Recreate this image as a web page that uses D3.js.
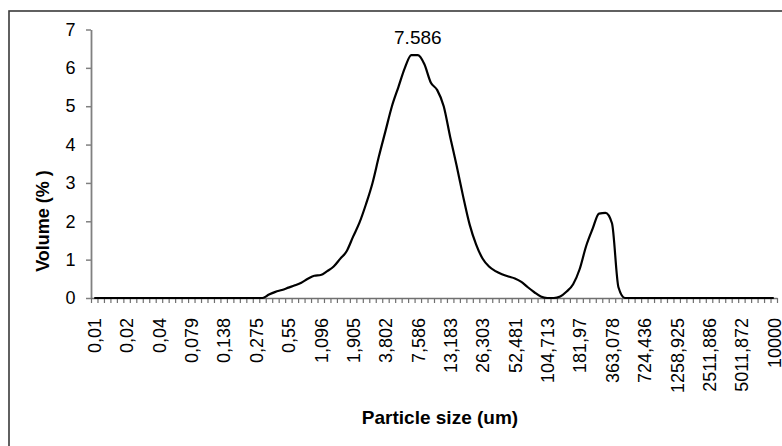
<!DOCTYPE html>
<html>
<head>
<meta charset="utf-8">
<script src="https://cdn.jsdelivr.net/npm/d3@7"></script>
<style>
  body { margin: 0; background: #fff; }
  text { font-family: Arial, "Liberation Sans", sans-serif; fill: #000; }
</style>
</head>
<body>
<svg width="782" height="446"></svg>
<script>
// tick labels, one every 5th size class
var tickLabels = ["0,01", "0,02", "0,04", "0,079", "0,138", "0,275", "0,55", "1,096", "1,905", "3,802",
  "7,586", "13,183", "26,303", "52,481", "104,713", "181,97", "363,078", "724,436", "1258,925",
  "2511,886", "5011,872", "10000"];
var labelEvery = 5;

// volume (%) per size class
var volume = [
  0, 0, 0, 0, 0, 0, 0, 0, 0, 0,
  0, 0, 0, 0, 0, 0, 0, 0, 0, 0,
  0, 0, 0, 0, 0, 0, 0, 0.09, 0.16, 0.21,
  0.27, 0.33, 0.40, 0.50, 0.58, 0.60, 0.70, 0.82, 1.02, 1.22,
  1.60, 1.97, 2.45, 3.00, 3.70, 4.35, 5.00, 5.50, 6.00, 6.33,
  6.33, 6.10, 5.62, 5.42, 5.00, 4.20, 3.45, 2.65, 1.92, 1.40,
  1.03, 0.82, 0.70, 0.62, 0.56, 0.51, 0.42, 0.28, 0.15, 0.04,
  0, 0, 0.04, 0.17, 0.36, 0.75, 1.35, 1.80, 2.20, 2.22,
  1.95, 0.28, 0, 0, 0, 0, 0, 0, 0, 0,
  0, 0, 0, 0, 0, 0, 0, 0, 0, 0,
  0, 0, 0, 0, 0, 0
];
var peakLabel = "7.586";
var yTicks = [0, 1, 2, 3, 4, 5, 6, 7];

var svg = d3.select("svg");
var plotLeft = 91, plotRight = 777, plotTop = 29.5, plotBottom = 298;

// outer frame (runs past the picture on right and bottom)
svg.append("rect")
  .attr("x", 9).attr("y", 11)
  .attr("width", 820).attr("height", 480)
  .attr("fill", "none")
  .attr("stroke", "#3a3a3a")
  .attr("stroke-width", 1.6);

// category positions: edges at integers, centers at i + 0.5
var x = d3.scaleLinear().domain([0, volume.length]).range([plotLeft, plotRight]);
var y = d3.scaleLinear().domain([0, 7]).range([plotBottom, plotTop]);

// y axis
var yAxis = svg.append("g")
  .attr("transform", "translate(" + plotLeft + ",0)")
  .call(d3.axisLeft(y).tickValues(yTicks).tickFormat(d3.format("d"))
    .tickSize(5).tickPadding(10.5).tickSizeOuter(0));
yAxis.select(".domain").attr("stroke", "#808080").attr("stroke-width", 1.8);
yAxis.selectAll(".tick line").attr("stroke", "#808080").attr("stroke-width", 1.5);
yAxis.selectAll("text").style("font-size", "18px").attr("fill", "#000");

// x axis tick marks between categories
var xAxis = svg.append("g")
  .attr("transform", "translate(0," + plotBottom + ")")
  .call(d3.axisBottom(x).tickValues(d3.range(volume.length + 1)).tickSize(5).tickFormat("").tickSizeOuter(0));
xAxis.select(".domain").attr("stroke", "#707070").attr("stroke-width", 1.6);
xAxis.selectAll(".tick line").attr("stroke", "#707070").attr("stroke-width", 1.2);

// x tick labels, rotated
var labelPos = tickLabels.map(function(d, i) { return i * labelEvery + 0.5; });
var xLabels = svg.append("g")
  .attr("transform", "translate(0," + plotBottom + ")")
  .call(d3.axisBottom(x).tickValues(labelPos).tickSize(0)
    .tickFormat(function(d, i) { return tickLabels[i]; }));
xLabels.select(".domain").remove();
xLabels.selectAll("text")
  .style("font-size", "18px")
  .attr("fill", "#000")
  .attr("text-anchor", "end")
  .attr("y", 0)
  .attr("dy", "0.35em")
  .attr("transform", "translate(0,20) rotate(-90)");

// the data line
var line = d3.line()
  .x(function(d, i) { return x(i + 0.5); })
  .y(function(d) { return y(d); })
  .curve(d3.curveMonotoneX);

svg.append("path")
  .datum(volume)
  .attr("d", line)
  .attr("fill", "none")
  .attr("stroke", "#000")
  .attr("stroke-width", 2.2)
  .attr("stroke-linejoin", "round");

// peak annotation, centred over the flat top
var peakIndex = volume.indexOf(d3.max(volume));
svg.append("text")
  .attr("x", x(peakIndex + 1.5))
  .attr("y", y(volume[peakIndex]) - 11)
  .attr("text-anchor", "middle")
  .style("font-size", "19px")
  .text(peakLabel);

// axis titles
svg.append("text")
  .attr("transform", "translate(49,221) rotate(-90)")
  .attr("text-anchor", "middle")
  .style("font-size", "18px")
  .style("font-weight", "bold")
  .text("Volume (% )");

svg.append("text")
  .attr("x", 440)
  .attr("y", 424)
  .attr("text-anchor", "middle")
  .style("font-size", "19px")
  .style("font-weight", "bold")
  .text("Particle size (um)");
</script>
</body>
</html>
